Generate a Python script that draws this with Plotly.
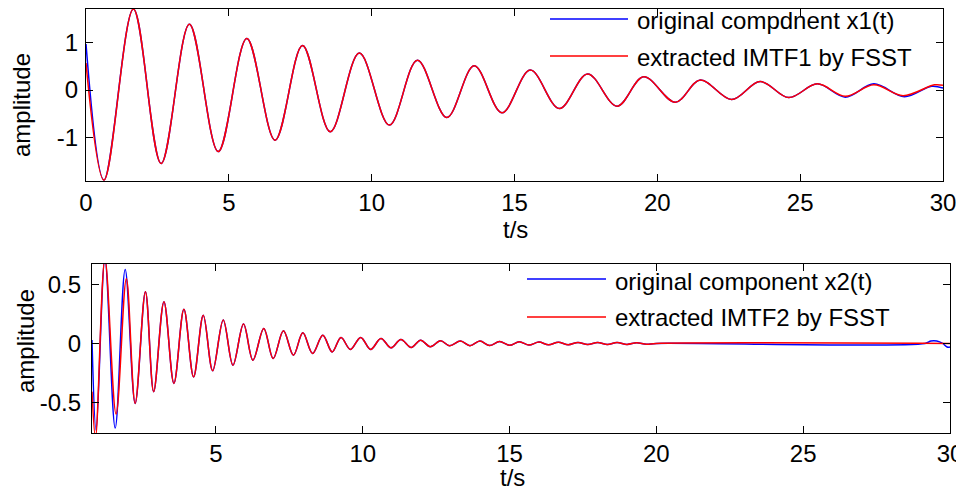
import plotly.graph_objects as go

# page is photographed at 964x492; the plot div sits 8px in from the page corner
PAGE_W, PAGE_H, OFF = 964, 492, 8
W, H = PAGE_W - OFF, PAGE_H - OFF

# ---- data: top panel (component 1), extrema ----
t1_orig = [0, 0.63, 1.66, 2.63, 3.62, 4.63, 5.63, 6.62, 7.58, 8.55, 9.57, 10.62, 11.6, 12.63,
           13.59, 14.56, 15.55, 16.57, 17.56, 18.59, 19.52, 20.63, 21.5, 22.6, 23.6, 24.6,
           25.6, 26.58, 27.58, 28.65, 29.6, 30]
x1_orig = [0.97, -1.9, 1.71, -1.55, 1.39, -1.30, 1.09, -1.06, 0.94, -0.88, 0.78, -0.74, 0.63,
           -0.58, 0.51, -0.48, 0.42, -0.39, 0.34, -0.34, 0.28, -0.26, 0.21, -0.2, 0.18, -0.16,
           0.13, -0.15, 0.13, -0.14, 0.08, 0.04]
t1_fsst = [0, 0.63, 1.66, 2.63, 3.62, 4.63, 5.63, 6.62, 7.58, 8.55, 9.57, 10.62, 11.6, 12.63,
           13.59, 14.56, 15.55, 16.57, 17.56, 18.59, 19.52, 20.63, 21.5, 22.6, 23.6, 24.6,
           25.6, 26.58, 27.58, 28.6, 29.7, 30]
x1_fsst = [0.57, -1.9, 1.71, -1.55, 1.39, -1.30, 1.09, -1.06, 0.94, -0.88, 0.78, -0.74, 0.63,
           -0.58, 0.51, -0.48, 0.42, -0.39, 0.34, -0.34, 0.28, -0.26, 0.21, -0.2, 0.18, -0.16,
           0.13, -0.13, 0.11, -0.12, 0.11, 0.10]

# ---- data: bottom panel (component 2) ----
t2_fsst = [0.78, 0.9, 1.22, 1.6, 1.95, 2.25, 2.6, 2.88, 3.23, 3.57, 3.91, 4.24, 4.57, 4.89,
           5.25, 5.58, 5.94, 6.26, 6.63, 6.95, 7.3, 7.64, 7.96, 8.29, 8.64, 8.96, 9.26, 9.58,
           9.93, 10.27, 10.62, 10.96, 11.3, 11.65, 11.97, 12.3, 12.65, 12.96, 13.33, 13.65,
           13.99, 14.32, 14.66, 15.0, 15.33, 15.66, 16.0, 16.33, 16.66, 17.0, 17.33, 17.66,
           18.0, 18.33, 18.66, 19.0, 19.33, 19.66, 20.0, 30.0]
x2_fsst = [-0.41, -0.80, 0.72, -0.60, 0.55, -0.51, 0.44, -0.41, 0.355, -0.34, 0.29, -0.285,
           0.24, -0.233, 0.20, -0.185, 0.165, -0.142, 0.128, -0.128, 0.107, -0.10, 0.09,
           -0.085, 0.07, -0.072, 0.051, -0.051, 0.051, -0.051, 0.043, -0.037, 0.034, -0.034,
           0.028, -0.028, 0.023, -0.02, 0.02, -0.02, 0.02, -0.018, 0.016, -0.016, 0.014,
           -0.014, 0.012, -0.012, 0.01, -0.011, 0.009, -0.01, 0.008, -0.009, 0.007, -0.008,
           0.006, -0.007, 0.0, 0.0]
t2_orig = [0.78, 0.92, 1.22, 1.57, 1.91, 2.25, 2.6, 2.88, 3.23, 3.57, 3.91, 4.24, 4.57, 4.89,
           5.25, 5.58, 5.94, 6.26, 6.63, 6.95, 7.3, 7.64, 7.96, 8.29, 8.64, 8.96, 9.26, 9.58,
           9.93, 10.27, 10.62, 10.96, 11.3, 11.65, 11.97, 12.3, 12.65, 12.96, 13.33, 13.65,
           13.99, 14.32, 14.66, 15.0, 15.33, 15.66, 16.0, 16.33, 16.66, 17.0, 17.33, 17.66,
           18.0, 18.33, 18.66, 19.0, 19.33, 19.66, 20.0, 29.15, 29.35, 29.55, 29.75, 29.9, 30.0]
x2_orig = [0.03, -0.74, 0.72, -0.72, 0.63, -0.51, 0.44, -0.41, 0.355, -0.34, 0.29, -0.285,
           0.24, -0.233, 0.20, -0.185, 0.165, -0.142, 0.128, -0.128, 0.107, -0.10, 0.09,
           -0.085, 0.07, -0.072, 0.051, -0.051, 0.051, -0.051, 0.043, -0.037, 0.034, -0.034,
           0.028, -0.028, 0.023, -0.02, 0.02, -0.02, 0.02, -0.018, 0.016, -0.016, 0.014,
           -0.014, 0.012, -0.012, 0.01, -0.011, 0.009, -0.01, 0.008, -0.009, 0.007, -0.008,
           0.006, -0.007, 0.0, 0.0, 0.02, 0.02, 0.0, -0.03, -0.03]

top_xticks = [0, 5, 10, 15, 20, 25, 30]
top_yticks = [-1, 0, 1]
top_yticktext = ["-1", "0", "1"]
bot_xticks = [5, 10, 15, 20, 25, 30]
bot_yticks = [-0.5, 0, 0.5]
bot_yticktext = ["-0.5", "0", "0.5"]
legend_top = ["original compdnent x1(t)", "extracted IMTF1 by FSST"]
legend_bot = ["original component x2(t)", "extracted IMTF2 by FSST"]
xlabel = "t/s"
ylabel = "amplitude"

BLUE = "rgb(0,0,255)"
RED = "rgb(255,0,0)"
FONT = "Liberation Sans, Arial, sans-serif"
FS = 24

fig = go.Figure()
fig.add_trace(go.Scatter(x=t1_orig, y=x1_orig, mode="lines", line=dict(color=BLUE, width=1.5, shape="spline"),
                         xaxis="x", yaxis="y", showlegend=False))
fig.add_trace(go.Scatter(x=t1_fsst, y=x1_fsst, mode="lines", line=dict(color=RED, width=1.5, shape="spline"),
                         xaxis="x", yaxis="y", showlegend=False))
fig.add_trace(go.Scatter(x=t2_orig, y=x2_orig, mode="lines", line=dict(color=BLUE, width=1.5, shape="spline"),
                         xaxis="x2", yaxis="y2", showlegend=False))
fig.add_trace(go.Scatter(x=t2_fsst, y=x2_fsst, mode="lines", line=dict(color=RED, width=1.5, shape="spline"),
                         xaxis="x2", yaxis="y2", showlegend=False))

# page-pixel -> paper fraction
def px(x):
    return (x - OFF) / W

def py(y):
    return 1 - (y - OFF) / H

axis_common = dict(showline=True, linecolor="black", linewidth=1.3, mirror="ticks",
                   ticks="inside", ticklen=7, tickwidth=1.3, tickcolor="black",
                   showgrid=False, zeroline=False, automargin=False,
                   tickfont=dict(family=FONT, size=FS, color="black"))

fig.update_layout(
    width=W, height=H,
    margin=dict(l=0, r=0, t=0, b=0, autoexpand=False),
    paper_bgcolor="white", plot_bgcolor="white",
    xaxis=dict(domain=[px(86), px(943)], range=[0, 30], tickvals=top_xticks,
               anchor="y", ticklabelstandoff=0, **axis_common),
    yaxis=dict(domain=[py(181), py(9)], range=[-1.92, 1.71], tickvals=top_yticks,
               ticktext=top_yticktext, anchor="x", ticklabelstandoff=2, **axis_common),
    xaxis2=dict(domain=[px(92), px(950)], range=[0.78, 30], tickvals=bot_xticks,
                anchor="y2", ticklabelstandoff=-1, **axis_common),
    yaxis2=dict(domain=[py(433), py(264)], range=[-0.762, 0.676], tickvals=bot_yticks,
                ticktext=bot_yticktext, anchor="x2", ticklabelstandoff=5, **axis_common),
)

annots = []
shapes = []
def add_label(text, x, y, angle=0):
    annots.append(dict(text=text, x=px(x), y=py(y), xref="paper", yref="paper",
                       xanchor="center", yanchor="middle", showarrow=False, textangle=angle,
                       font=dict(family=FONT, size=FS, color="black")))

add_label(xlabel, 515, 229)
add_label(xlabel, 512, 477)
add_label(ylabel, 22, 105, -90)
add_label(ylabel, 25, 341, -90)

def add_legend(texts, x0, x1, xt, ys, ys_text):
    for txt, col, yl, ytx in zip(texts, [BLUE, RED], ys, ys_text):
        shapes.append(dict(type="line", xref="paper", yref="paper", x0=px(x0), x1=px(x1),
                           y0=py(yl), y1=py(yl), line=dict(color=col, width=1.5)))
        annots.append(dict(text=txt, x=px(xt), y=py(ytx), xref="paper", yref="paper",
                           xanchor="left", yanchor="middle", showarrow=False,
                           font=dict(family=FONT, size=FS, color="black")))

add_legend(legend_top, 550, 628, 635, [19, 56], [21, 57])
add_legend(legend_bot, 527, 606, 613, [279, 317], [281, 317])

fig.update_layout(annotations=annots, shapes=shapes)
fig.write_html("out.html")
